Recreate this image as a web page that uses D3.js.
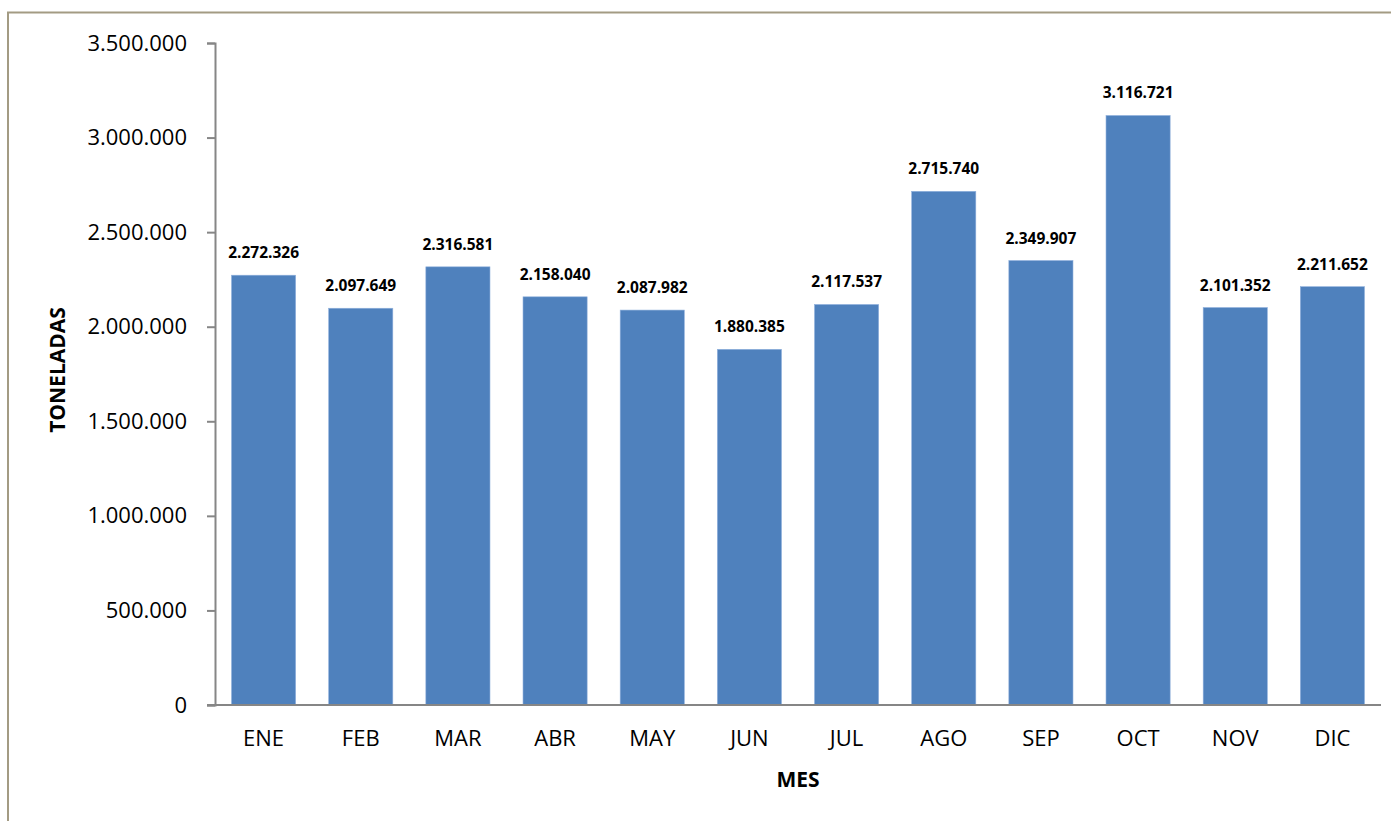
<!DOCTYPE html>
<html lang="es">
<head>
    <meta charset="UTF-8">
    <title>Toneladas por mes</title>
    <script src="https://d3js.org/d3.v7.min.js"></script>
    <style>
        body {
            margin: 0;
            padding: 0;
            background: #fff;
            font-family: "Open Sans", sans-serif;
        }
        #chart svg { display: block; }
    </style>
</head>
<body>
    <div id="chart"></div>
    <script>
        // datos
        const meses = ['ENE', 'FEB', 'MAR', 'ABR', 'MAY', 'JUN', 'JUL', 'AGO', 'SEP', 'OCT', 'NOV', 'DIC'];
        const toneladas = [2272326, 2097649, 2316581, 2158040, 2087982, 1880385, 2117537, 2715740, 2349907, 3116721, 2101352, 2211652];
        const yTicks = [0, 500000, 1000000, 1500000, 2000000, 2500000, 3000000, 3500000];

        const W = 1391, H = 821;
        const margin = {top: 43, right: 10, bottom: 116, left: 215};
        const width = 1381 - margin.left;
        const height = 705 - margin.top;

        // formato con puntos de miles
        const fmt = d3.formatLocale({decimal: ',', thousands: '.', grouping: [3], currency: ['', '']}).format(',d');

        const svg = d3.select('#chart').append('svg')
            .attr('width', W)
            .attr('height', H);

        // borde del gráfico
        svg.append('path')
            .attr('d', `M8,${H} L8,12.5 L${W},12.5`)
            .attr('fill', 'none')
            .attr('stroke', '#a39b83')
            .attr('stroke-width', 2);

        const g = svg.append('g')
            .attr('transform', `translate(${margin.left},${margin.top})`);

        const x = d3.scaleBand()
            .domain(meses)
            .range([0, width])
            .paddingInner(0.34)
            .paddingOuter(0.17);

        const y = d3.scaleLinear()
            .domain([0, 3500000])
            .range([height, 0]);

        // barras
        g.selectAll('rect.bar')
            .data(meses)
            .enter()
            .append('rect')
            .attr('class', 'bar')
            .attr('x', (d) => x(d))
            .attr('y', (d, i) => y(toneladas[i]))
            .attr('width', x.bandwidth())
            .attr('height', (d, i) => height - y(toneladas[i]))
            .attr('fill', '#4f81bd')
            .attr('stroke', '#8fb0dc')
            .attr('stroke-width', 0.6);

        // etiquetas de valores
        g.selectAll('text.val')
            .data(meses)
            .enter()
            .append('text')
            .attr('class', 'val')
            .attr('x', (d) => x(d) + x.bandwidth() / 2)
            .attr('y', (d, i) => y(toneladas[i]) - 17)
            .attr('text-anchor', 'middle')
            .style('font-size', '15.5px')
            .style('font-weight', 'bold')
            .style('fill', '#000')
            .text((d, i) => fmt(toneladas[i]));

        // eje Y
        const yAxis = g.append('g')
            .call(d3.axisLeft(y).tickValues(yTicks).tickSize(8).tickPadding(20).tickFormat(fmt));
        yAxis.select('.domain').attr('stroke', '#868686').attr('stroke-width', 2);
        yAxis.selectAll('.tick line').attr('stroke', '#868686').attr('stroke-width', 2);
        yAxis.selectAll('text')
            .style('font-size', '22px')
            .style('font-family', '"Open Sans", sans-serif')
            .style('fill', '#000');

        // eje X
        const xAxis = g.append('g')
            .attr('transform', `translate(0,${height})`)
            .call(d3.axisBottom(x).tickSize(0).tickPadding(25).tickSizeOuter(0));
        xAxis.select('.domain')
            .attr('d', `M-8,0H${width}`)
            .attr('stroke', '#868686')
            .attr('stroke-width', 2);
        xAxis.selectAll('text')
            .style('font-size', '22px')
            .style('font-family', '"Open Sans", sans-serif')
            .style('fill', '#000');

        // títulos de ejes
        svg.append('text')
            .attr('transform', `translate(65,370) rotate(-90)`)
            .attr('text-anchor', 'middle')
            .style('font-size', '21px')
            .style('font-weight', 'bold')
            .text('TONELADAS');

        svg.append('text')
            .attr('x', 798)
            .attr('y', 787)
            .attr('text-anchor', 'middle')
            .style('font-size', '21px')
            .style('font-weight', 'bold')
            .text('MES');
    </script>
</body>
</html>
